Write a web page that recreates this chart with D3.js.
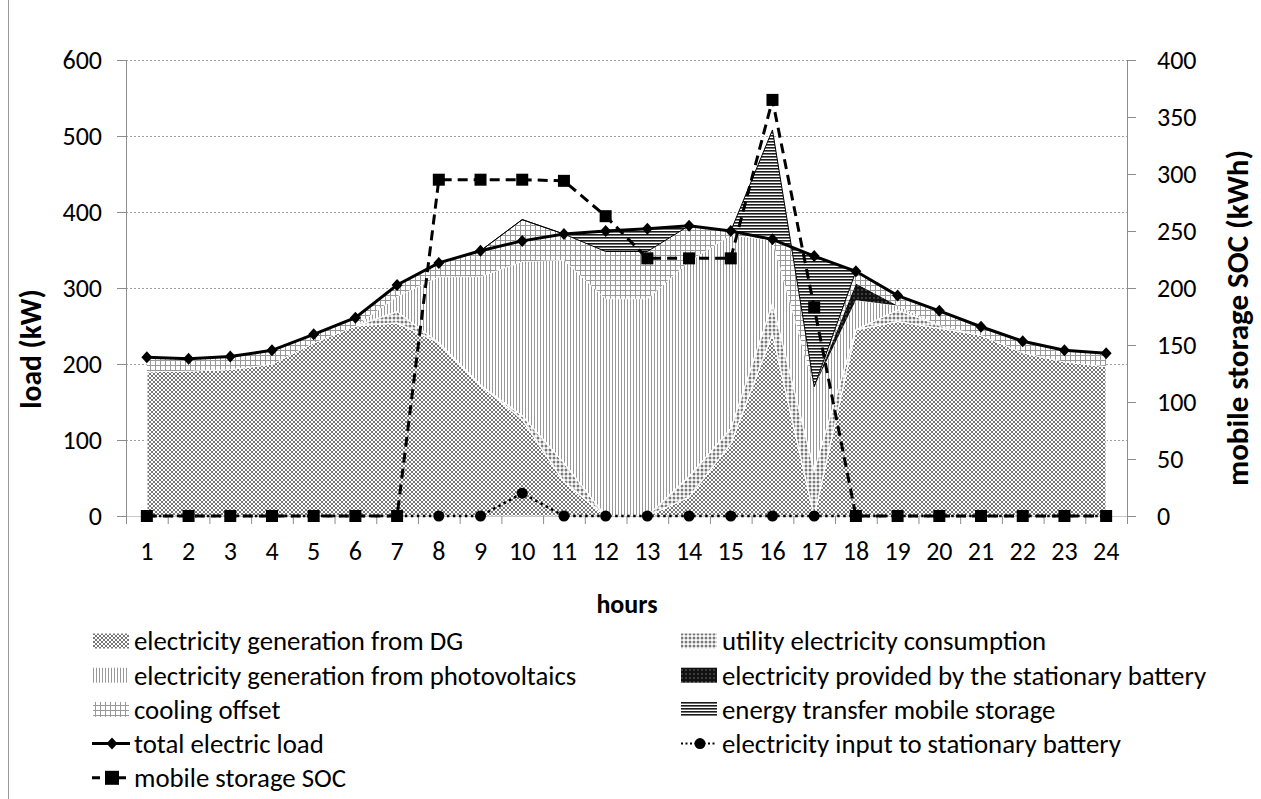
<!DOCTYPE html>
<html>
<head>
<meta charset="utf-8">
<script src="https://cdn.jsdelivr.net/npm/d3@7"></script>
<style>
  body { margin: 0; background: #fff; }
  svg { font-family: Carlito, Calibri, Lato, sans-serif; }
</style>
</head>
<body>
<svg id="chart" width="1261" height="799"></svg>
<script>
// hourly values (kW, SOC in kWh)
const hours = [1,2,3,4,5,6,7,8,9,10,11,12,13,14,15,16,17,18,19,20,21,22,23,24];
const dgGen          = [190,191,193,200,228,250,254,228,172,127,45,0,0,25,95,240,0,245,256,247,238,215,203,197];
const utilityUse     = [0,0,0,0,0,0,15,0,0,5,25,0,0,27,20,40,60,0,15,4,0,0,0,0];
const pvGen          = [0,0,0,0,0,0,20,87,143,203,267,286,286,283,255,83,110,39,6,0,0,0,0,0];
const batteryOut     = [0,0,0,0,0,0,0,0,0,0,0,0,0,0,0,0,0,22,0,0,0,0,0,0];
const coolingOffset  = [19,16,17,18,11,11,15,18,34,55,34,62,62,47,5,0,172,16,13,19,11,15,15,17];
const mobileTransfer = [0,0,0,0,0,0,0,0,0,0,0,27,30,0,0,145,-172,0,0,0,0,0,0,0];
const totalLoad      = [209,207,210,218,239,261,304,333,349,362,371,375,378,382,375,364,342,322,290,270,249,230,218,214];
const batteryIn      = [0,0,0,0,0,0,0,0,0,30,0,0,0,0,0,0,0,0,0,0,0,0,0,0];
const mobileSoc      = [0,0,0,0,0,0,0,295,295,295,294,263,226,226,226,365,183,0,0,0,0,0,0,0];
const loadTicks = [0,100,200,300,400,500,600];
const socTicks = [0,50,100,150,200,250,300,350,400];

const areaKeys = ["dg","util","pv","batt","cool","transfer"];
const areaPattern = {dg:"pDG", util:"pUtil", pv:"pPV", batt:"pBatt", cool:"pCool", transfer:"pTransfer"};

var svg = d3.select("#chart");

var plot = {left: 126, right: 1127, top: 60, bottom: 516};

var x = d3.scalePoint().domain(hours).range([plot.left, plot.right]).padding(0.5);
var yL = d3.scaleLinear().domain([0, 600]).range([plot.bottom, plot.top]);
var yR = d3.scaleLinear().domain([0, 400]).range([plot.bottom, plot.top]);

// fill patterns (Excel style hatches)
var defs = svg.append("defs");
function pattern(id, w, h, draw) {
  var p = defs.append("pattern").attr("id", id)
    .attr("patternUnits", "userSpaceOnUse").attr("width", w).attr("height", h);
  draw(p);
}
pattern("pDG", 4, 4, function(p) {
  p.append("rect").attr("width", 4).attr("height", 4).attr("fill", "#fff");
  p.append("path").attr("d", "M0,0L4,4M4,0L0,4").attr("stroke", "#777").attr("stroke-width", 1);
});
pattern("pUtil", 4, 4, function(p) {
  p.append("rect").attr("width", 4).attr("height", 4).attr("fill", "#fff");
  p.append("circle").attr("cx", 2).attr("cy", 2).attr("r", 1.5).attr("fill", "#7a7a7a");
});
pattern("pPV", 3, 3, function(p) {
  p.append("rect").attr("width", 3).attr("height", 3).attr("fill", "#fff");
  p.append("rect").attr("width", 1).attr("height", 3).attr("fill", "#999");
});
pattern("pBatt", 4, 4, function(p) {
  p.append("rect").attr("width", 4).attr("height", 4).attr("fill", "#111");
  p.append("circle").attr("cx", 2).attr("cy", 2).attr("r", 0.7).attr("fill", "#888");
});
pattern("pCool", 5, 5, function(p) {
  p.append("rect").attr("width", 5).attr("height", 5).attr("fill", "#fff");
  p.append("path").attr("d", "M0,0.5H5M0.5,0V5").attr("stroke", "#999").attr("stroke-width", 1);
});
pattern("pTransfer", 3, 3, function(p) {
  p.append("rect").attr("width", 3).attr("height", 3).attr("fill", "#fff");
  p.append("rect").attr("width", 3).attr("height", 1.6).attr("fill", "#1a1a1a");
});

// border of the chart object
svg.append("line").attr("x1", 8.5).attr("x2", 8.5).attr("y1", 0).attr("y2", 799)
  .attr("stroke", "#9a9a9a").attr("stroke-width", 1);

// gridlines
svg.append("g").selectAll("line").data(loadTicks.slice(1)).join("line")
  .attr("x1", plot.left).attr("x2", plot.right)
  .attr("y1", d => yL(d) + 0.5).attr("y2", d => yL(d) + 0.5)
  .attr("stroke", "#a0a0a0").attr("stroke-width", 1).attr("stroke-dasharray", "2,2");

// stacked areas
var rows = hours.map(function(h, i) {
  return {hour: h, dg: dgGen[i], util: utilityUse[i], pv: pvGen[i], batt: batteryOut[i],
          cool: coolingOffset[i], transfer: mobileTransfer[i]};
});
var series = d3.stack().keys(areaKeys).order(d3.stackOrderNone).offset(d3.stackOffsetNone)(rows);

var area = d3.area()
  .x(d => x(d.data.hour))
  .y0(d => yL(d[0]))
  .y1(d => yL(d[1]));

svg.append("g").selectAll("path").data(series).join("path")
  .attr("d", area)
  .attr("fill", d => "url(#" + areaPattern[d.key] + ")")
  .attr("stroke", d => d.key == "transfer" ? "#000" : (d.key == "dg" || d.key == "util" || d.key == "pv") ? "#fff" : "none")
  .attr("stroke-width", d => d.key == "transfer" ? 1 : 1.2)
  .attr("stroke-linejoin", "miter");

// axes
var axisColor = "#8c8c8c";
var ax = svg.append("g").attr("stroke", axisColor).attr("stroke-width", 1);
ax.append("line").attr("x1", plot.left + 0.5).attr("x2", plot.left + 0.5).attr("y1", plot.top).attr("y2", plot.bottom);
ax.selectAll(".tl").data(loadTicks).join("line")
  .attr("x1", plot.left - 9).attr("x2", plot.left)
  .attr("y1", d => yL(d) + 0.5).attr("y2", d => yL(d) + 0.5);
ax.append("line").attr("x1", plot.right + 0.5).attr("x2", plot.right + 0.5).attr("y1", plot.top).attr("y2", plot.bottom + 8);
ax.selectAll(".tr").data(socTicks).join("line")
  .attr("x1", plot.right).attr("x2", plot.right + 9)
  .attr("y1", d => yR(d) + 0.5).attr("y2", d => yR(d) + 0.5);
ax.append("line").attr("x1", plot.left).attr("x2", plot.right).attr("y1", plot.bottom + 0.5).attr("y2", plot.bottom + 0.5)
  .attr("stroke", "#c8c8c8");
var step = x.step();
ax.selectAll(".tb").data(d3.range(0, hours.length + 1)).join("line")
  .attr("x1", d => plot.left + d * step + 0.5).attr("x2", d => plot.left + d * step + 0.5)
  .attr("y1", plot.bottom).attr("y2", plot.bottom + 8);

var tickFont = 26;
svg.append("g").selectAll("text").data(loadTicks).join("text")
  .attr("x", 102).attr("y", d => yL(d)).attr("dy", "0.35em")
  .attr("text-anchor", "end").attr("font-size", tickFont).attr("fill", "#000")
  .text(d => d);
svg.append("g").selectAll("text").data(socTicks).join("text")
  .attr("x", 1157).attr("y", d => yR(d)).attr("dy", "0.35em")
  .attr("text-anchor", "start").attr("font-size", tickFont).attr("fill", "#000")
  .text(d => d);
svg.append("g").selectAll("text").data(hours).join("text")
  .attr("x", d => x(d)).attr("y", 551).attr("dy", "0.35em")
  .attr("text-anchor", "middle").attr("font-size", tickFont).attr("fill", "#000")
  .text(d => d);

// axis titles
svg.append("text").attr("transform", "translate(31,349) rotate(-90)")
  .attr("text-anchor", "middle").attr("dy", "0.35em")
  .attr("font-size", 29.5).attr("font-weight", "bold").text("load (kW)");
svg.append("text").attr("transform", "translate(1237,318) rotate(-90)")
  .attr("text-anchor", "middle").attr("dy", "0.35em")
  .attr("font-size", 31).attr("font-weight", "bold").text("mobile storage SOC (kWh)");
svg.append("text").attr("x", 627).attr("y", 604).attr("dy", "0.35em")
  .attr("text-anchor", "middle").attr("font-size", 26).attr("font-weight", "bold").text("hours");

// lines
var diamond = "M0,-6L5.5,0L0,6L-5.5,0Z";

var loadLine = d3.line().x((d, i) => x(hours[i])).y(d => yL(d));
svg.append("path").attr("d", loadLine(totalLoad))
  .attr("fill", "none").attr("stroke", "#000").attr("stroke-width", 3);
svg.append("g").selectAll("path").data(totalLoad).join("path")
  .attr("d", diamond)
  .attr("transform", (d, i) => "translate(" + x(hours[i]) + "," + yL(d) + ")")
  .attr("fill", "#000");

svg.append("path").attr("d", loadLine(batteryIn))
  .attr("fill", "none").attr("stroke", "#000").attr("stroke-width", 2.5).attr("stroke-dasharray", "2.5,3.5");
svg.append("g").selectAll("circle").data(batteryIn).join("circle")
  .attr("cx", (d, i) => x(hours[i])).attr("cy", d => yL(d)).attr("r", 5.5)
  .attr("fill", "#000");

var socLine = d3.line().x((d, i) => x(hours[i])).y(d => yR(d));
svg.append("path").attr("d", socLine(mobileSoc))
  .attr("fill", "none").attr("stroke", "#000").attr("stroke-width", 3).attr("stroke-dasharray", "10,6");
svg.append("g").selectAll("rect").data(mobileSoc).join("rect")
  .attr("x", (d, i) => x(hours[i]) - 6).attr("y", d => yR(d) - 6)
  .attr("width", 12).attr("height", 12).attr("fill", "#000");

// legend
var legendLeft = [
  {label: "electricity generation from DG", type: "area", key: "dg"},
  {label: "electricity generation from photovoltaics", type: "area", key: "pv"},
  {label: "cooling offset", type: "area", key: "cool"},
  {label: "total electric load", type: "load"},
  {label: "mobile storage SOC", type: "soc"}
];
var legendRight = [
  {label: "utility electricity consumption", type: "area", key: "util"},
  {label: "electricity provided by the stationary battery", type: "area", key: "batt"},
  {label: "energy transfer mobile storage", type: "area", key: "transfer"},
  {label: "electricity input to stationary battery", type: "batt"}
];
var legendFont = 26.8;
function drawLegend(items, x0, textX) {
  items.forEach(function(it, i) {
    var cy = 641 + i * 34.2;
    var g = svg.append("g");
    if (it.type == "area") {
      g.append("rect").attr("x", x0).attr("y", cy - 7.5).attr("width", 36).attr("height", 15)
        .attr("fill", "url(#" + areaPattern[it.key] + ")");
    } else if (it.type == "load") {
      g.append("line").attr("x1", x0 - 1).attr("x2", x0 + 37).attr("y1", cy).attr("y2", cy)
        .attr("stroke", "#000").attr("stroke-width", 3);
      g.append("path").attr("d", diamond).attr("transform", "translate(" + (x0 + 19) + "," + cy + ")");
    } else if (it.type == "soc") {
      g.append("line").attr("x1", x0 - 1).attr("x2", x0 + 36).attr("y1", cy).attr("y2", cy)
        .attr("stroke", "#000").attr("stroke-width", 3).attr("stroke-dasharray", "8,5");
      g.append("rect").attr("x", x0 + 12).attr("y", cy - 7).attr("width", 14).attr("height", 14);
    } else {
      g.append("line").attr("x1", x0).attr("x2", x0 + 36).attr("y1", cy).attr("y2", cy)
        .attr("stroke", "#000").attr("stroke-width", 2).attr("stroke-dasharray", "2,2.5");
      g.append("circle").attr("cx", x0 + 19).attr("cy", cy).attr("r", 5.5);
    }
    g.append("text").attr("x", textX).attr("y", cy).attr("dy", "0.35em")
      .attr("font-size", legendFont).attr("fill", "#000").text(it.label);
  });
}
drawLegend(legendLeft, 93, 134);
drawLegend(legendRight, 681, 722);
</script>
</body>
</html>
